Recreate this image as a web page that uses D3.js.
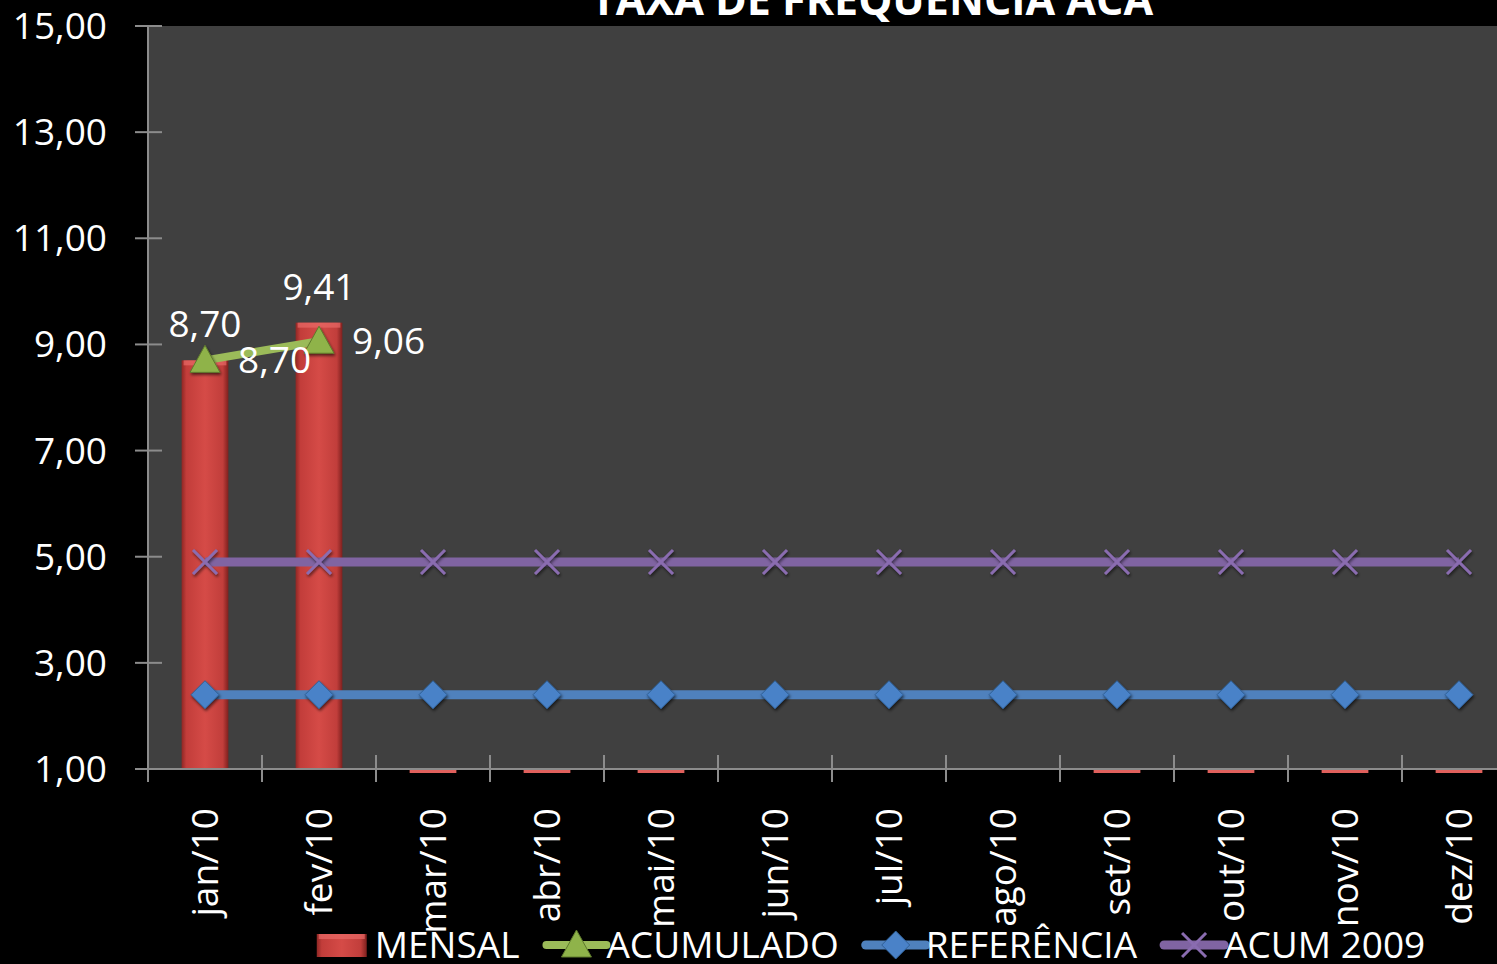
<!DOCTYPE html>
<html>
<head>
<meta charset="utf-8">
<script src="https://cdn.jsdelivr.net/npm/d3@7"></script>
<style>
  html, body { margin: 0; padding: 0; background: #000; overflow: hidden; }
  text { font-family: "Open Sans", sans-serif; fill: #fff; }
</style>
</head>
<body>
<div id="wrapper"></div>
<script>
// Data
const months = ["jan/10", "fev/10", "mar/10", "abr/10", "mai/10", "jun/10",
                "jul/10", "ago/10", "set/10", "out/10", "nov/10", "dez/10"]
const mensal = [8.70, 9.41, 0, 0, 0, null, null, null, 0, 0, 0, 0]
const acumulado = [8.70, 9.06, null, null, null, null, null, null, null, null, null, null]
const referencia = [2.40, 2.40, 2.40, 2.40, 2.40, 2.40, 2.40, 2.40, 2.40, 2.40, 2.40, 2.40]
const acum2009 = [4.90, 4.90, 4.90, 4.90, 4.90, 4.90, 4.90, 4.90, 4.90, 4.90, 4.90, 4.90]
const yTicks = [1, 3, 5, 7, 9, 11, 13, 15]
const title = "TAXA DE FREQUÊNCIA ACA"
const legendNames = ["MENSAL", "ACUMULADO", "REFERÊNCIA", "ACUM 2009"]

function drawChart() {
  const dimensions = {
    width: 1497,
    height: 964,
    margin: { top: 26, left: 148, bottom: 195 },
  }
  const plotBottom = dimensions.height - dimensions.margin.bottom
  const fontSize = "37px"

  const br = d3.formatLocale({ decimal: ",", thousands: ".", grouping: [3], currency: ["R$", ""] })
  const fmt = br.format(".2f")

  const svg = d3.select("#wrapper").append("svg")
    .attr("width", dimensions.width)
    .attr("height", dimensions.height)

  const defs = svg.append("defs")
  const grad = defs.append("linearGradient").attr("id", "barGrad")
  grad.selectAll("stop")
    .data([["0%", "#8f2724"], ["10%", "#c23d3a"], ["50%", "#d54b47"], ["88%", "#c13e3b"], ["100%", "#7e201e"]])
    .enter().append("stop")
      .attr("offset", d => d[0])
      .attr("stop-color", d => d[1])
  const shadow = defs.append("filter").attr("id", "shadow")
    .attr("x", "-50%").attr("y", "-50%").attr("width", "200%").attr("height", "200%")
  shadow.append("feDropShadow")
    .attr("dx", 1).attr("dy", 2).attr("stdDeviation", 1.5)
    .attr("flood-color", "#000").attr("flood-opacity", 0.6)
  defs.append("clipPath").attr("id", "plotClip")
    .append("rect")
      .attr("x", dimensions.margin.left)
      .attr("y", dimensions.margin.top)
      .attr("width", dimensions.width)
      .attr("height", plotBottom - dimensions.margin.top + 4)

  // Scales
  const xScale = d3.scaleBand()
    .domain(months)
    .range([dimensions.margin.left, dimensions.margin.left + 114 * months.length])
  const xCenter = d => xScale(d) + xScale.bandwidth() / 2

  const yScale = d3.scaleLinear()
    .domain([1, 15])
    .range([plotBottom, dimensions.margin.top])

  // Plot area
  svg.append("rect")
    .attr("x", dimensions.margin.left)
    .attr("y", dimensions.margin.top)
    .attr("width", dimensions.width - dimensions.margin.left)
    .attr("height", plotBottom - dimensions.margin.top)
    .attr("fill", "#404040")

  // Title (cut off at the top, as in the original)
  svg.append("text")
    .attr("x", 872)
    .attr("y", 15)
    .attr("text-anchor", "middle")
    .style("font-weight", "bold")
    .style("font-size", "43px")
    .text(title)

  // Bars
  const barW = xScale.bandwidth() * 0.41
  const bars = svg.append("g").attr("clip-path", "url(#plotClip)")
  const barData = months.map((m, i) => ({ m, v: mensal[i] })).filter(d => d.v !== null)
  bars.selectAll("rect.bar")
    .data(barData)
    .enter().append("rect")
      .attr("class", "bar")
      .attr("x", d => xCenter(d.m) - barW / 2)
      .attr("y", d => Math.min(yScale(d.v), yScale(1)))
      .attr("width", barW)
      .attr("height", d => Math.abs(yScale(1) - yScale(d.v)))
      .attr("fill", d => d.v >= 1 ? "url(#barGrad)" : "#e0605c")
  bars.selectAll("rect.bevel")
    .data(barData.filter(d => d.v >= 1))
    .enter().append("rect")
      .attr("class", "bevel")
      .attr("x", d => xCenter(d.m) - barW / 2 + 2)
      .attr("y", d => yScale(d.v))
      .attr("width", barW - 4)
      .attr("height", 5)
      .attr("fill", "#e86a66")
      .attr("opacity", 0.7)

  // Axes
  const axisColor = "#8c8c8c"
  const yAxis = svg.append("g")
  yAxis.append("line")
    .attr("x1", dimensions.margin.left).attr("x2", dimensions.margin.left)
    .attr("y1", dimensions.margin.top).attr("y2", plotBottom)
    .attr("stroke", axisColor).attr("stroke-width", 2)
  yAxis.selectAll("line.tick")
    .data(yTicks)
    .enter().append("line")
      .attr("class", "tick")
      .attr("x1", dimensions.margin.left - 13).attr("x2", dimensions.margin.left + 14)
      .attr("y1", d => yScale(d)).attr("y2", d => yScale(d))
      .attr("stroke", axisColor).attr("stroke-width", 2)
  yAxis.selectAll("text")
    .data(yTicks)
    .enter().append("text")
      .attr("x", dimensions.margin.left - 41)
      .attr("y", d => yScale(d))
      .attr("dy", "0.35em")
      .attr("text-anchor", "end")
      .style("font-size", fontSize)
      .text(d => fmt(d))

  const xAxis = svg.append("g")
  xAxis.append("line")
    .attr("x1", dimensions.margin.left).attr("x2", dimensions.width)
    .attr("y1", plotBottom).attr("y2", plotBottom)
    .attr("stroke", axisColor).attr("stroke-width", 2)
  xAxis.selectAll("line.tick")
    .data(months)
    .enter().append("line")
      .attr("class", "tick")
      .attr("x1", d => xScale(d)).attr("x2", d => xScale(d))
      .attr("y1", plotBottom - 14).attr("y2", plotBottom + 13)
      .attr("stroke", axisColor).attr("stroke-width", 2)
  xAxis.selectAll("text")
    .data(months)
    .enter().append("text")
      .attr("transform", d => `translate(${xCenter(d)}, ${plotBottom + 39}) rotate(-90)`)
      .attr("dy", "0.35em")
      .attr("text-anchor", "end")
      .style("font-size", fontSize)
      .text(d => d)

  // Marker shapes
  const triangle = "M0,-15L15,12L-15,12Z"
  const diamond = "M0,-14L14,0L0,14L-14,0Z"
  const cross = "M-12,-12L12,12M-12,12L12,-12"

  const lineGen = d3.line()
    .defined(d => d.v !== null)
    .x(d => xCenter(d.m))
    .y(d => yScale(d.v))

  const series = [
    { values: acum2009, color: "#8064a2", marker: "x", width: 9 },
    { values: referencia, color: "#4f81bd", marker: "diamond", width: 9 },
    { values: acumulado, color: "#9bbb59", marker: "triangle", width: 8 },
  ]
  series.forEach(s => {
    const pts = months.map((m, i) => ({ m, v: s.values[i] }))
    svg.append("path")
      .datum(pts)
      .attr("d", lineGen)
      .attr("fill", "none")
      .attr("stroke", s.color)
      .attr("stroke-width", s.width)
    const mk = svg.append("g").selectAll("path")
      .data(pts.filter(d => d.v !== null))
      .enter().append("path")
        .attr("transform", d => `translate(${xCenter(d.m)}, ${yScale(d.v)})`)
        .attr("filter", "url(#shadow)")
    if (s.marker === "x") {
      mk.attr("d", cross).attr("fill", "none").attr("stroke", "#8a6cb0").attr("stroke-width", 3)
    } else if (s.marker === "diamond") {
      mk.attr("d", diamond).attr("fill", "#4a82c8").attr("stroke", "#2f5f96").attr("stroke-width", 1)
    } else {
      mk.attr("d", triangle).attr("fill", "#8fb34a").attr("stroke", "#5f7a2c").attr("stroke-width", 1)
    }
  })

  // Data labels
  svg.append("g").selectAll("text")
    .data(barData.filter(d => d.v >= 1))
    .enter().append("text")
      .attr("x", d => xCenter(d.m))
      .attr("y", d => yScale(d.v) - 23)
      .attr("text-anchor", "middle")
      .style("font-size", fontSize)
      .text(d => fmt(d.v))
  svg.append("g").selectAll("text")
    .data(months.map((m, i) => ({ m, v: acumulado[i] })).filter(d => d.v !== null))
    .enter().append("text")
      .attr("x", d => xCenter(d.m) + 33)
      .attr("y", d => yScale(d.v))
      .attr("dy", "0.35em")
      .style("font-size", fontSize)
      .text(d => fmt(d.v))

  // Legend
  const legend = svg.append("g")
  const legendY = 945
  let cursor = 0
  legendNames.forEach((name, i) => {
    const g = legend.append("g").attr("transform", `translate(${cursor}, 0)`)
    if (i === 0) {
      g.append("rect").attr("x", 2).attr("y", legendY - 11).attr("width", 50).attr("height", 23)
        .attr("fill", "url(#barGrad)")
      g.append("rect").attr("x", 4).attr("y", legendY - 11).attr("width", 46).attr("height", 5)
        .attr("fill", "#e86a66").attr("opacity", 0.7)
    } else {
      const s = series[3 - i]
      g.append("line").attr("x1", 0).attr("x2", 60).attr("y1", legendY).attr("y2", legendY)
        .attr("stroke", s.color).attr("stroke-width", s.width).attr("stroke-linecap", "round")
      const m = g.append("path").attr("transform", `translate(30, ${legendY})`)
      if (s.marker === "x") m.attr("d", cross).attr("fill", "none").attr("stroke", "#8a6cb0").attr("stroke-width", 3)
      else if (s.marker === "diamond") m.attr("d", diamond).attr("fill", "#4a82c8").attr("stroke", "#2f5f96")
      else m.attr("d", triangle).attr("fill", "#8fb34a").attr("stroke", "#5f7a2c")
    }
    const t = g.append("text")
      .attr("x", 60)
      .attr("y", legendY)
      .attr("dy", "0.35em")
      .style("font-size", fontSize)
      .text(name)
    cursor += 60 + t.node().getComputedTextLength() + 27
  })
  const legendWidth = cursor - 27
  legend.attr("transform", `translate(${870 - legendWidth / 2}, 0)`)
}

drawChart()
</script>
</body>
</html>
